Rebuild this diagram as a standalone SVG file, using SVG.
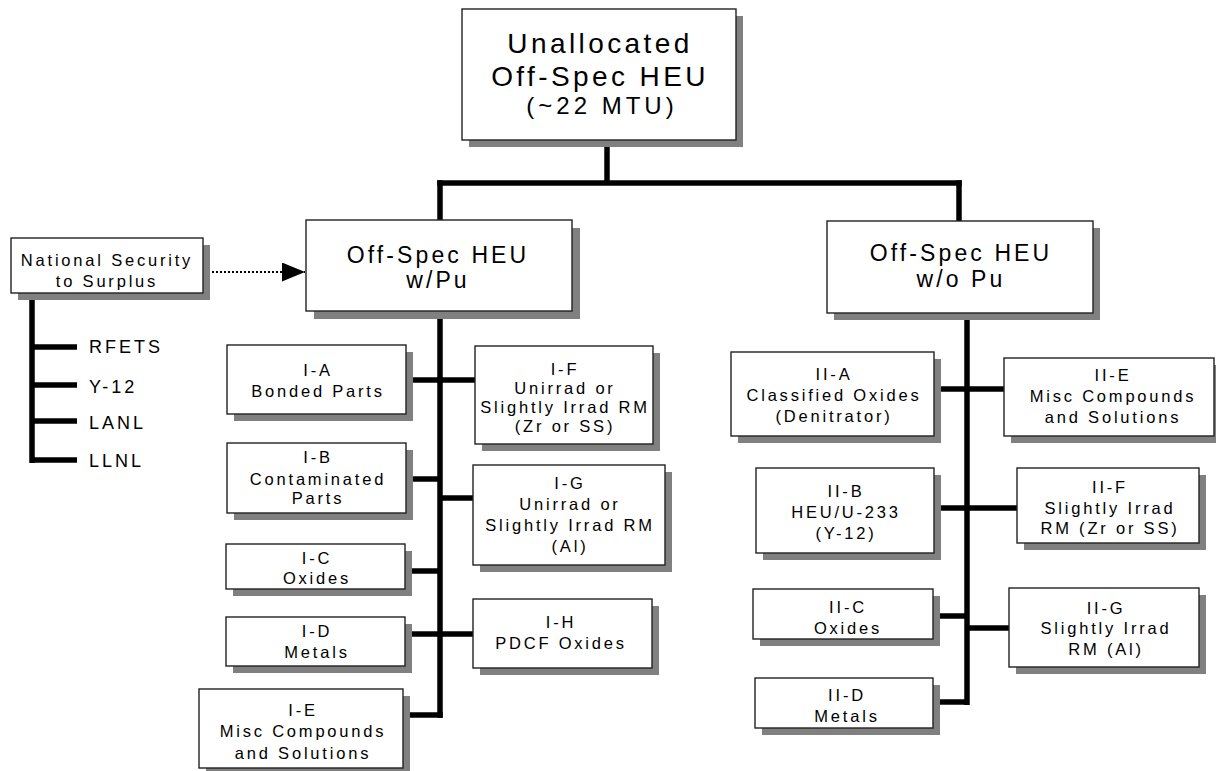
<svg xmlns="http://www.w3.org/2000/svg" width="1216" height="771" viewBox="0 0 1216 771">
<style>
  text { font-family: "Liberation Sans", Arial, sans-serif; fill: #000; text-anchor: middle; }
  .big { font-size: 28px; letter-spacing: 3.4px; }
  .big3 { font-size: 24px; letter-spacing: 4px; }
  .mid { font-size: 23px; letter-spacing: 3.1px; }
  .sm { font-size: 16.5px; letter-spacing: 2.8px; }
  .lbl { font-size: 18px; letter-spacing: 3px; text-anchor: start; }
  .box { fill: #fff; stroke: #222; stroke-width: 1.4; }
  .shadow { fill: #808080; }
  .conn line { stroke: #000; stroke-width: 5.5; }
</style>
<defs>
  <marker id="arrow" viewBox="0 0 23 19" refX="23" refY="9.5" markerWidth="23" markerHeight="19" markerUnits="userSpaceOnUse" orient="auto">
    <polygon points="0,0 23,9.5 0,19" fill="#000"/>
  </marker>
</defs>

<g id="connectors" class="conn">
  <line x1="607" y1="140" x2="607" y2="183"/>
  <line x1="437.25" y1="183" x2="961.75" y2="183"/>
  <line x1="440" y1="180.25" x2="440" y2="220"/>
  <line x1="959" y1="180.25" x2="959" y2="221"/>
  <line x1="440" y1="311" x2="440" y2="717.75"/>
  <line x1="406" y1="380" x2="475" y2="380"/>
  <line x1="406" y1="479" x2="440" y2="479"/>
  <line x1="440" y1="498" x2="473" y2="498"/>
  <line x1="405" y1="571" x2="440" y2="571"/>
  <line x1="405" y1="634" x2="473" y2="634"/>
  <line x1="403" y1="715" x2="442.75" y2="715"/>
  <line x1="967" y1="313" x2="967" y2="705"/>
  <line x1="934" y1="389" x2="1004" y2="389"/>
  <line x1="934" y1="508" x2="1017" y2="508"/>
  <line x1="933" y1="616" x2="967" y2="616"/>
  <line x1="967" y1="628" x2="1009" y2="628"/>
  <line x1="933" y1="702" x2="967" y2="702"/>
  <line x1="32" y1="293" x2="32" y2="463"/>
  <line x1="32" y1="347" x2="77" y2="347"/>
  <line x1="32" y1="385" x2="77" y2="385"/>
  <line x1="32" y1="421" x2="77" y2="421"/>
  <line x1="32" y1="460" x2="77" y2="460"/>
  <line x1="212" y1="272" x2="305" y2="272" style="stroke-width:2;stroke-dasharray:2 2" marker-end="url(#arrow)"/>
</g>

<g id="sites">
  <text class="lbl" x="89" y="353">RFETS</text>
  <text class="lbl" x="89" y="393">Y-12</text>
  <text class="lbl" x="89" y="428.5">LANL</text>
  <text class="lbl" x="89" y="467">LLNL</text>
</g>

<g id="top">
  <rect class="shadow" x="469" y="16" width="274" height="131"/>
  <rect class="box" x="462" y="9" width="274" height="131"/>
  <text class="big" x="600" y="53">Unallocated</text>
  <text class="big" x="600" y="86">Off-Spec HEU</text>
  <text class="big3" x="602" y="114">(~22 MTU)</text>
</g>

<g id="natsec">
  <rect class="shadow" x="18" y="245" width="192" height="55"/>
  <rect class="box" x="11" y="238" width="192" height="55"/>
  <text class="sm" x="107" y="266">National Security</text>
  <text class="sm" x="107" y="287">to Surplus</text>
</g>

<g id="wpu">
  <rect class="shadow" x="314" y="228" width="266" height="91"/>
  <rect class="box" x="306" y="220" width="266" height="91"/>
  <text class="mid" x="438" y="263">Off-Spec HEU</text>
  <text class="mid" x="438" y="288">w/Pu</text>
</g>

<g id="wopu">
  <rect class="shadow" x="834" y="228" width="266" height="92"/>
  <rect class="box" x="827" y="221" width="266" height="92"/>
  <text class="mid" x="961" y="261">Off-Spec HEU</text>
  <text class="mid" x="961" y="287">w/o Pu</text>
</g>

<g id="IA">
  <rect class="shadow" x="234" y="352" width="179" height="69"/>
  <rect class="box" x="227" y="345" width="179" height="69"/>
  <text class="sm" x="318" y="376">I-A</text>
  <text class="sm" x="318" y="396.5">Bonded Parts</text>
</g>

<g id="IB">
  <rect class="shadow" x="234" y="450" width="179" height="70"/>
  <rect class="box" x="227" y="443" width="179" height="70"/>
  <text class="sm" x="318" y="462.5">I-B</text>
  <text class="sm" x="318" y="484.5">Contaminated</text>
  <text class="sm" x="318" y="504">Parts</text>
</g>

<g id="IC">
  <rect class="shadow" x="233" y="551" width="179" height="45"/>
  <rect class="box" x="226" y="544" width="179" height="45"/>
  <text class="sm" x="317" y="564">I-C</text>
  <text class="sm" x="317" y="584">Oxides</text>
</g>

<g id="ID">
  <rect class="shadow" x="233" y="624" width="179" height="49"/>
  <rect class="box" x="226" y="617" width="179" height="49"/>
  <text class="sm" x="317" y="637">I-D</text>
  <text class="sm" x="317" y="658">Metals</text>
</g>

<g id="IE">
  <rect class="shadow" x="206" y="696" width="204" height="79"/>
  <rect class="box" x="199" y="689" width="204" height="79"/>
  <text class="sm" x="303" y="716">I-E</text>
  <text class="sm" x="303" y="737">Misc Compounds</text>
  <text class="sm" x="303" y="759">and Solutions</text>
</g>

<g id="IF">
  <rect class="shadow" x="482" y="353" width="178" height="98"/>
  <rect class="box" x="475" y="346" width="178" height="98"/>
  <text class="sm" x="565" y="375">I-F</text>
  <text class="sm" x="565" y="393.5">Unirrad or</text>
  <text class="sm" x="565" y="413">Slightly Irrad RM</text>
  <text class="sm" x="565" y="432">(Zr or SS)</text>
</g>

<g id="IG">
  <rect class="shadow" x="480" y="472" width="192" height="100"/>
  <rect class="box" x="473" y="465" width="192" height="100"/>
  <text class="sm" x="570" y="489">I-G</text>
  <text class="sm" x="570" y="510">Unirrad or</text>
  <text class="sm" x="570" y="530.5">Slightly Irrad RM</text>
  <text class="sm" x="570" y="552">(Al)</text>
</g>

<g id="IH">
  <rect class="shadow" x="480" y="606" width="179" height="69"/>
  <rect class="box" x="473" y="599" width="179" height="69"/>
  <text class="sm" x="561" y="628">I-H</text>
  <text class="sm" x="561" y="648.5">PDCF Oxides</text>
</g>

<g id="IIA">
  <rect class="shadow" x="738" y="359" width="203" height="84"/>
  <rect class="box" x="731" y="352" width="203" height="84"/>
  <text class="sm" x="834" y="380">II-A</text>
  <text class="sm" x="834" y="401">Classified Oxides</text>
  <text class="sm" x="834" y="422">(Denitrator)</text>
</g>

<g id="IIB">
  <rect class="shadow" x="763" y="475" width="178" height="85"/>
  <rect class="box" x="756" y="468" width="178" height="85"/>
  <text class="sm" x="846" y="497">II-B</text>
  <text class="sm" x="846" y="517.5">HEU/U-233</text>
  <text class="sm" x="846" y="539">(Y-12)</text>
</g>

<g id="IIC">
  <rect class="shadow" x="760" y="596" width="180" height="50"/>
  <rect class="box" x="753" y="589" width="180" height="50"/>
  <text class="sm" x="848" y="612.5">II-C</text>
  <text class="sm" x="848" y="633.5">Oxides</text>
</g>

<g id="IID">
  <rect class="shadow" x="762" y="685" width="178" height="50"/>
  <rect class="box" x="755" y="678" width="178" height="50"/>
  <text class="sm" x="847" y="701">II-D</text>
  <text class="sm" x="847" y="722">Metals</text>
</g>

<g id="IIE">
  <rect class="shadow" x="1011" y="365" width="210" height="78"/>
  <rect class="box" x="1004" y="358" width="210" height="78"/>
  <text class="sm" x="1113" y="381">II-E</text>
  <text class="sm" x="1113" y="402">Misc Compounds</text>
  <text class="sm" x="1113" y="422.5">and Solutions</text>
</g>

<g id="IIF">
  <rect class="shadow" x="1024" y="475" width="182" height="75"/>
  <rect class="box" x="1017" y="468" width="182" height="75"/>
  <text class="sm" x="1110" y="492.5">II-F</text>
  <text class="sm" x="1110" y="513.5">Slightly Irrad</text>
  <text class="sm" x="1110" y="534">RM (Zr or SS)</text>
</g>

<g id="IIG">
  <rect class="shadow" x="1016" y="595" width="190" height="79"/>
  <rect class="box" x="1009" y="588" width="190" height="79"/>
  <text class="sm" x="1106" y="613.5">II-G</text>
  <text class="sm" x="1106" y="634">Slightly Irrad</text>
  <text class="sm" x="1106" y="655">RM (Al)</text>
</g>
</svg>
